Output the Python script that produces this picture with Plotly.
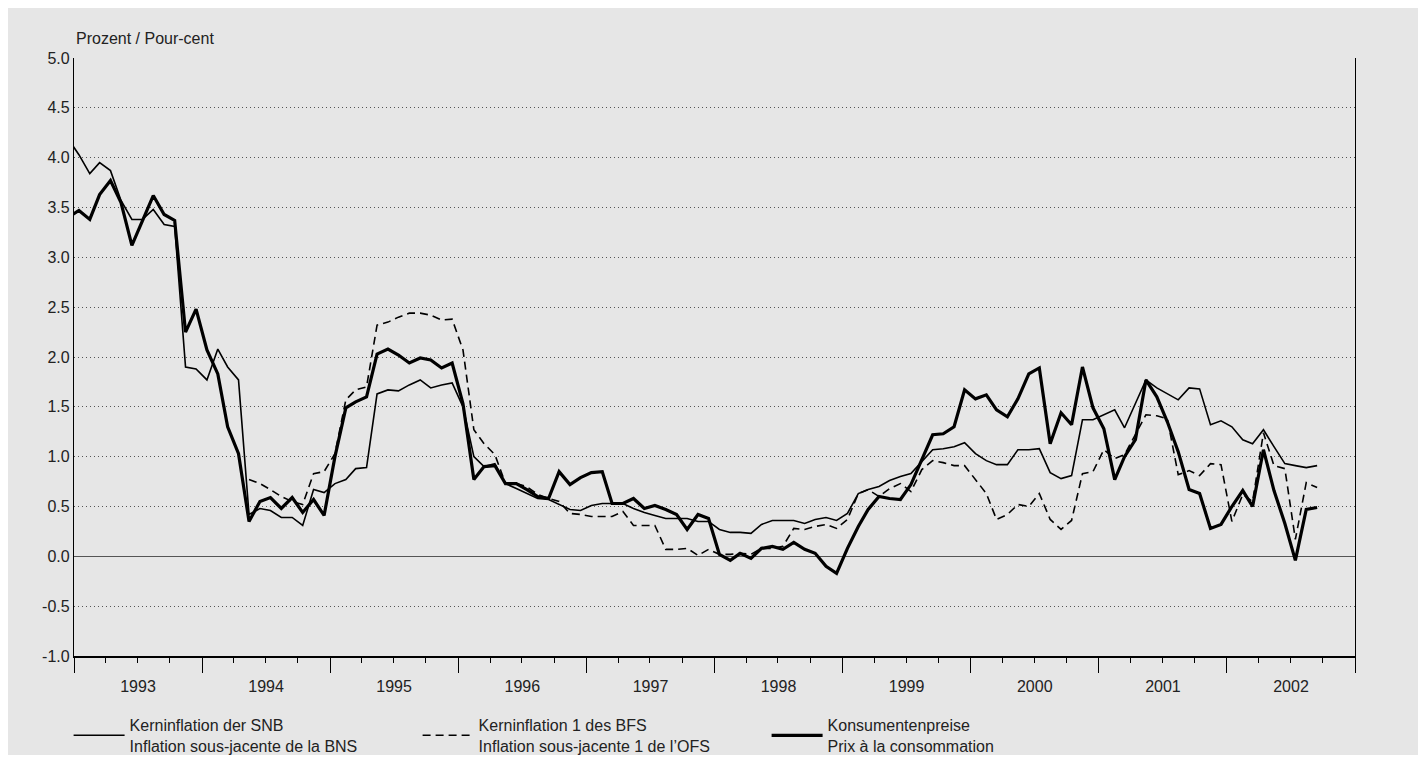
import pandas as pd
import plotly.graph_objects as go

# ---- data (monthly, mid-month; first point Dec 1992) ----
start_month = "1992-12-15"

snb_core = [4.19,
    4.03, 3.84, 3.95, 3.87, 3.57, 3.38, 3.38, 3.48, 3.33, 3.31, 1.90, 1.88,
    1.77, 2.08, 1.90, 1.77, 0.42, 0.48, 0.46, 0.39, 0.39, 0.31, 0.67, 0.64,
    0.73, 0.77, 0.88, 0.89, 1.63, 1.67, 1.66, 1.72, 1.77, 1.69, 1.72, 1.74,
    1.50, 1.00, 0.90, 0.93, 0.73, 0.68, 0.63, 0.58, 0.57, 0.52, 0.47, 0.46,
    0.51, 0.53, 0.53, 0.53, 0.48, 0.44, 0.41, 0.38, 0.38, 0.38, 0.35, 0.35,
    0.27, 0.24, 0.24, 0.23, 0.32, 0.36, 0.36, 0.36, 0.33, 0.37, 0.39, 0.36,
    0.43, 0.63, 0.67, 0.70, 0.76, 0.80, 0.83, 0.95, 1.07, 1.08, 1.10, 1.14,
    1.03, 0.96, 0.92, 0.92, 1.07, 1.07, 1.08, 0.84, 0.78, 0.81, 1.37, 1.37,
    1.42, 1.47, 1.29, 1.53, 1.77, 1.69, 1.63, 1.57, 1.69, 1.68, 1.32, 1.36,
    1.30, 1.17, 1.13, 1.27, 1.10, 0.93, 0.91, 0.89, 0.91]

cpi = [3.40,
    3.47, 3.38, 3.63, 3.77, 3.55, 3.12, 3.37, 3.62, 3.43, 3.37, 2.25, 2.48,
    2.07, 1.83, 1.30, 1.03, 0.35, 0.55, 0.59, 0.48, 0.59, 0.44, 0.57, 0.41,
    1.00, 1.49, 1.55, 1.60, 2.03, 2.08, 2.02, 1.94, 1.99, 1.97, 1.89, 1.94,
    1.53, 0.77, 0.90, 0.91, 0.73, 0.73, 0.67, 0.60, 0.58, 0.85, 0.72, 0.79,
    0.84, 0.85, 0.53, 0.53, 0.58, 0.48, 0.51, 0.47, 0.42, 0.27, 0.42, 0.38,
    0.02, -0.04, 0.03, -0.02, 0.08, 0.10, 0.07, 0.14, 0.07, 0.03, -0.10, -0.17,
    0.08, 0.30, 0.47, 0.60, 0.58, 0.57, 0.72, 0.98, 1.22, 1.23, 1.30, 1.67,
    1.58, 1.62, 1.47, 1.40, 1.58, 1.83, 1.89, 1.13, 1.44, 1.32, 1.90, 1.49,
    1.28, 0.77, 1.00, 1.17, 1.77, 1.60, 1.35, 1.05, 0.67, 0.63, 0.28, 0.32,
    0.50, 0.66, 0.50, 1.07, 0.66, 0.33, -0.04, 0.47, 0.49]

bfs_start_month = "1994-05-15"
bfs_core1 = [
    0.77, 0.73, 0.67, 0.60, 0.55, 0.52, 0.83, 0.85,
    1.03, 1.57, 1.67, 1.70, 2.32, 2.35, 2.40, 2.44, 2.44, 2.42, 2.37, 2.38,
    2.07, 1.27, 1.13, 1.02, 0.73, 0.73, 0.70, 0.62, 0.58, 0.55, 0.43, 0.42,
    0.40, 0.40, 0.40, 0.45, 0.31, 0.31, 0.31, 0.07, 0.07, 0.08, 0.01, 0.07,
    0.02, 0.02, 0.03, 0.02, 0.08, 0.08, 0.10, 0.28, 0.27, 0.30, 0.32, 0.28,
    0.37, 0.63, 0.67, 0.60, 0.68, 0.73, 0.65, 0.87, 0.96, 0.94, 0.91, 0.91,
    0.77, 0.63, 0.37, 0.42, 0.52, 0.50, 0.63, 0.37, 0.27, 0.36, 0.83, 0.85,
    1.07, 0.98, 1.02, 1.23, 1.42, 1.41, 1.38, 0.82, 0.86, 0.81, 0.93, 0.92,
    0.35, 0.62, 0.55, 1.24, 0.91, 0.88, 0.17, 0.74, 0.69]

names = [
    "Kerninflation der SNB<br>Inflation sous-jacente de la BNS",
    "Kerninflation 1 des BFS<br>Inflation sous-jacente 1 de l\u2019OFS",
    "Konsumentenpreise<br>Prix \u00e0 la consommation",
]
y_title = "Prozent / Pour-cent"
y_tick_values = [-1.0, -0.5, 0.0, 0.5, 1.0, 1.5, 2.0, 2.5, 3.0, 3.5, 4.0, 4.5, 5.0]
y_tick_labels = ["-1.0", "-0.5", "0.0", "0.5", "1.0", "1.5", "2.0", "2.5",
                 "3.0", "3.5", "4.0", "4.5", "5.0"]


def month_dates(start, n):
    return [(pd.Timestamp(start) + pd.DateOffset(months=k)).strftime("%Y-%m-15") for k in range(n)]


x_main = month_dates(start_month, len(snb_core))
x_bfs = month_dates(bfs_start_month, len(bfs_core1))

FONT = "Liberation Sans Narrow, Arial, Liberation Sans, sans-serif"
GRAY = "#e6e6e6"

W, H = 1426, 760
L, T, R, B = 66, 50, 1347, 648          # plot area in figure pixels
PW, PH = R - L, B - T

fig = go.Figure()
fig.add_trace(go.Scatter(x=x_main, y=snb_core, mode="lines", name=names[0],
                         line=dict(color="black", width=1.6)))
fig.add_trace(go.Scatter(x=x_bfs, y=bfs_core1, mode="lines", name=names[1],
                         line=dict(color="black", width=1.6, dash="8px,5px")))
fig.add_trace(go.Scatter(x=x_main, y=cpi, mode="lines", name=names[2],
                         line=dict(color="black", width=3.2)))

fig.update_layout(
    width=W, height=H,
    paper_bgcolor="white",
    plot_bgcolor="rgba(0,0,0,0)",
    margin=dict(l=L, r=W - R, t=T, b=H - B, autoexpand=False),
    font=dict(family=FONT, size=16, color="#222"),
    showlegend=True,
    legend=dict(orientation="h", x=(60.6 - L) / PW, xanchor="left",
                y=-(700 - B) / PH, yanchor="top",
                bgcolor="rgba(0,0,0,0)", font=dict(size=16, family=FONT, color="#222"),
                entrywidth=283, entrywidthmode="pixels", itemwidth=51,
                traceorder="normal", tracegroupgap=0),
    shapes=[dict(type="rect", xref="paper", yref="paper",
                 x0=(0 - L) / PW, x1=(1411 - L) / PW,
                 y0=-(747 - B) / PH, y1=1 + T / PH,
                 fillcolor=GRAY, line=dict(width=0), layer="below")],
    annotations=[dict(text=y_title, xref="paper", yref="paper", x=0, y=1,
                      xanchor="left", yanchor="bottom", yshift=9, showarrow=False,
                      font=dict(size=16, family=FONT, color="#222"))],
)

fig.update_xaxes(
    type="date", range=["1993-01-01", "2003-01-01"],
    tick0="1993-01-01", dtick="M12", tickformat="%Y", ticklabelmode="period",
    ticks="outside", ticklen=15, tickwidth=1, tickcolor="black",
    minor=dict(dtick="M3", ticks="outside", ticklen=5, tickwidth=1, tickcolor="black", showgrid=False),
    showgrid=False, showline=True, linecolor="black", linewidth=1.5, mirror=False,
    tickfont=dict(size=16, family=FONT, color="#222"), zeroline=False,
)
fig.update_yaxes(
    range=[-1, 5], tickmode="array", tickvals=y_tick_values, ticktext=y_tick_labels,
    showgrid=True, gridcolor="#555", gridwidth=1, griddash="1px,3px",
    zeroline=True, zerolinecolor="#555", zerolinewidth=1.2,
    showline=True, linecolor="black", linewidth=1.2, mirror=True,
    ticks="", tickfont=dict(size=16, family=FONT, color="#222"),
)

fig.write_html("out.html")
